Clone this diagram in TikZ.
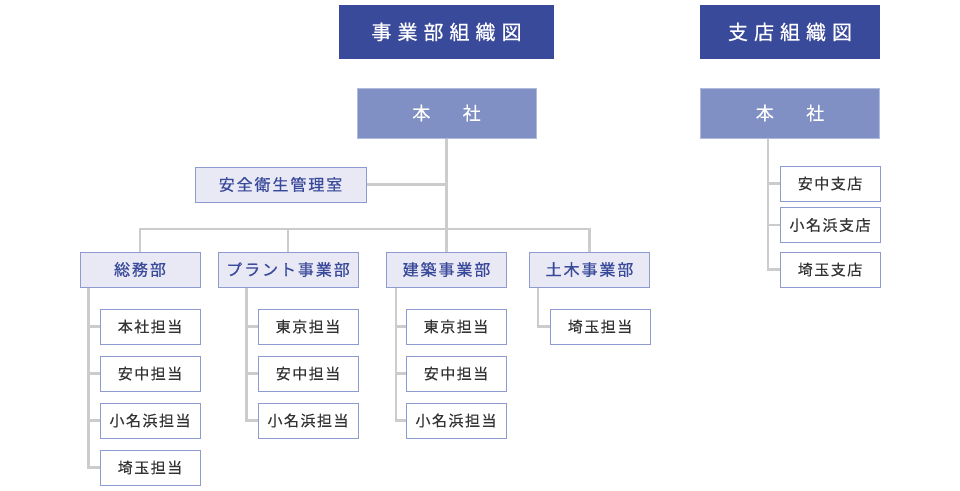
\documentclass[tikz,border=0pt]{standalone}
\usepackage{fontspec}
\setmainfont{Noto Sans CJK JP}
\definecolor{titleblue}{HTML}{3A4A9A}
\definecolor{hqblue}{HTML}{8090C4}
\definecolor{deptfill}{HTML}{E9E9F5}
\definecolor{boxline}{HTML}{8E9BD0}
\definecolor{linkgray}{HTML}{CCCCCC}
\definecolor{itemtext}{HTML}{333333}

\tikzset{every picture/.style={line width=0.75pt}}
\tikzset{
  titlebox/.style={fill=titleblue, text=white, minimum height=40.5pt, inner sep=0pt,
    font=\fontsize{15}{18}\selectfont\addfontfeature{LetterSpace=30,FakeBold=0.5}},
  hqbox/.style={fill=hqblue, draw=boxline!70, text=white, minimum width=134.25pt, minimum height=37.5pt, inner sep=0pt,
    font=\fontsize{13.5}{16}\selectfont\addfontfeature{FakeBold=0.5}},
  deptbox/.style={fill=deptfill, draw=boxline, text=titleblue, minimum height=26.25pt, inner sep=0pt,
    font=\fontsize{12}{14}\selectfont\addfontfeature{LetterSpace=12,FakeBold=0.6}},
  itembox/.style={fill=white, draw=boxline, text=itemtext, minimum width=75pt, minimum height=26.25pt, inner sep=0pt,
    font=\fontsize{11.25}{13}\selectfont\addfontfeature{LetterSpace=10,FakeBold=0.3}},
  link/.style={draw=linkgray, line width=1.8pt},
}

\begin{document}
\begin{tikzpicture}[x=0.75pt,y=0.75pt,yscale=-1,xscale=1]
    \useasboundingbox (0,0) rectangle (960,490);
    % Titles
    \node [titlebox, minimum width=161.25pt] (title1) at (446.5,32) {事業部組織図};
    \node [titlebox, minimum width=135pt] (title2) at (790,32) {支店組織図};
    % Head office
    \node [hqbox] (hq) at (446.5,113) {本\hspace{1.8em}社};
    \node [hqbox] (hq2) at (790,113) {本\hspace{1.8em}社};
    % Safety office
    \node [deptbox, minimum width=128.25pt] (anzen) at (280.5,184.5) {安全衛生管理室};
    % Departments
    \node [deptbox, minimum width=90pt] (d1) at (140,269.5) {総務部};
    \node [deptbox, minimum width=105pt] (d2) at (288,269.5) {プラント事業部};
    \node [deptbox, minimum width=90pt] (d3) at (446.5,269.5) {建築事業部};
    \node [deptbox, minimum width=90pt] (d4) at (589.5,269.5) {土木事業部};
    % Sections of 総務部
    \node [itembox] (s11) at (150,326.5) {本社担当};
    \node [itembox] (s12) at (150,373.5) {安中担当};
    \node [itembox] (s13) at (150,420.5) {小名浜担当};
    \node [itembox] (s14) at (150,467.5) {埼玉担当};
    % Sections of プラント事業部
    \node [itembox] (s21) at (308,326.5) {東京担当};
    \node [itembox] (s22) at (308,373.5) {安中担当};
    \node [itembox] (s23) at (308,420.5) {小名浜担当};
    % Sections of 建築事業部
    \node [itembox] (s31) at (456,326.5) {東京担当};
    \node [itembox] (s32) at (456,373.5) {安中担当};
    \node [itembox] (s33) at (456,420.5) {小名浜担当};
    % Sections of 土木事業部
    \node [itembox] (s41) at (600,326.5) {埼玉担当};
    % Branches
    \node [itembox] (b1) at (830,183.5) {安中支店};
    \node [itembox] (b2) at (830,225) {小名浜支店};
    \node [itembox] (b3) at (830,269.5) {埼玉支店};

    % Connections
    \coordinate (bar) at (446.5,229);
    \draw [link] (hq.south) -- (d3.north);
    \draw [link] (anzen.east) -- (anzen.east -| hq.south);
    \draw [link] (d1.north) |- (bar) -| (d4.north);
    \draw [link] (d2.north) -- (d2.north |- bar);
    % section lines
    \coordinate (t1) at ([xshift=6.75pt]d1.south west);
    \coordinate (t2) at ([xshift=21.75pt]d2.south west);
    \coordinate (t3) at ([xshift=7.5pt]d3.south west);
    \coordinate (t4) at ([xshift=6.75pt]d4.south west);
    \coordinate (t5) at ([xshift=51pt]hq2.south west);
    \draw [link] (t1) |- (s14.west);
    \foreach \s in {s11,s12,s13} \draw [link] (\s.west) -- (\s.west -| t1);
    \draw [link] (t2) |- (s23.west);
    \foreach \s in {s21,s22} \draw [link] (\s.west) -- (\s.west -| t2);
    \draw [link] (t3) |- (s33.west);
    \foreach \s in {s31,s32} \draw [link] (\s.west) -- (\s.west -| t3);
    \draw [link] (t4) |- (s41.west);
    \draw [link] (t5) |- (b3.west);
    \foreach \s in {b1,b2} \draw [link] (\s.west) -- (\s.west -| t5);

\end{tikzpicture}
\end{document}
